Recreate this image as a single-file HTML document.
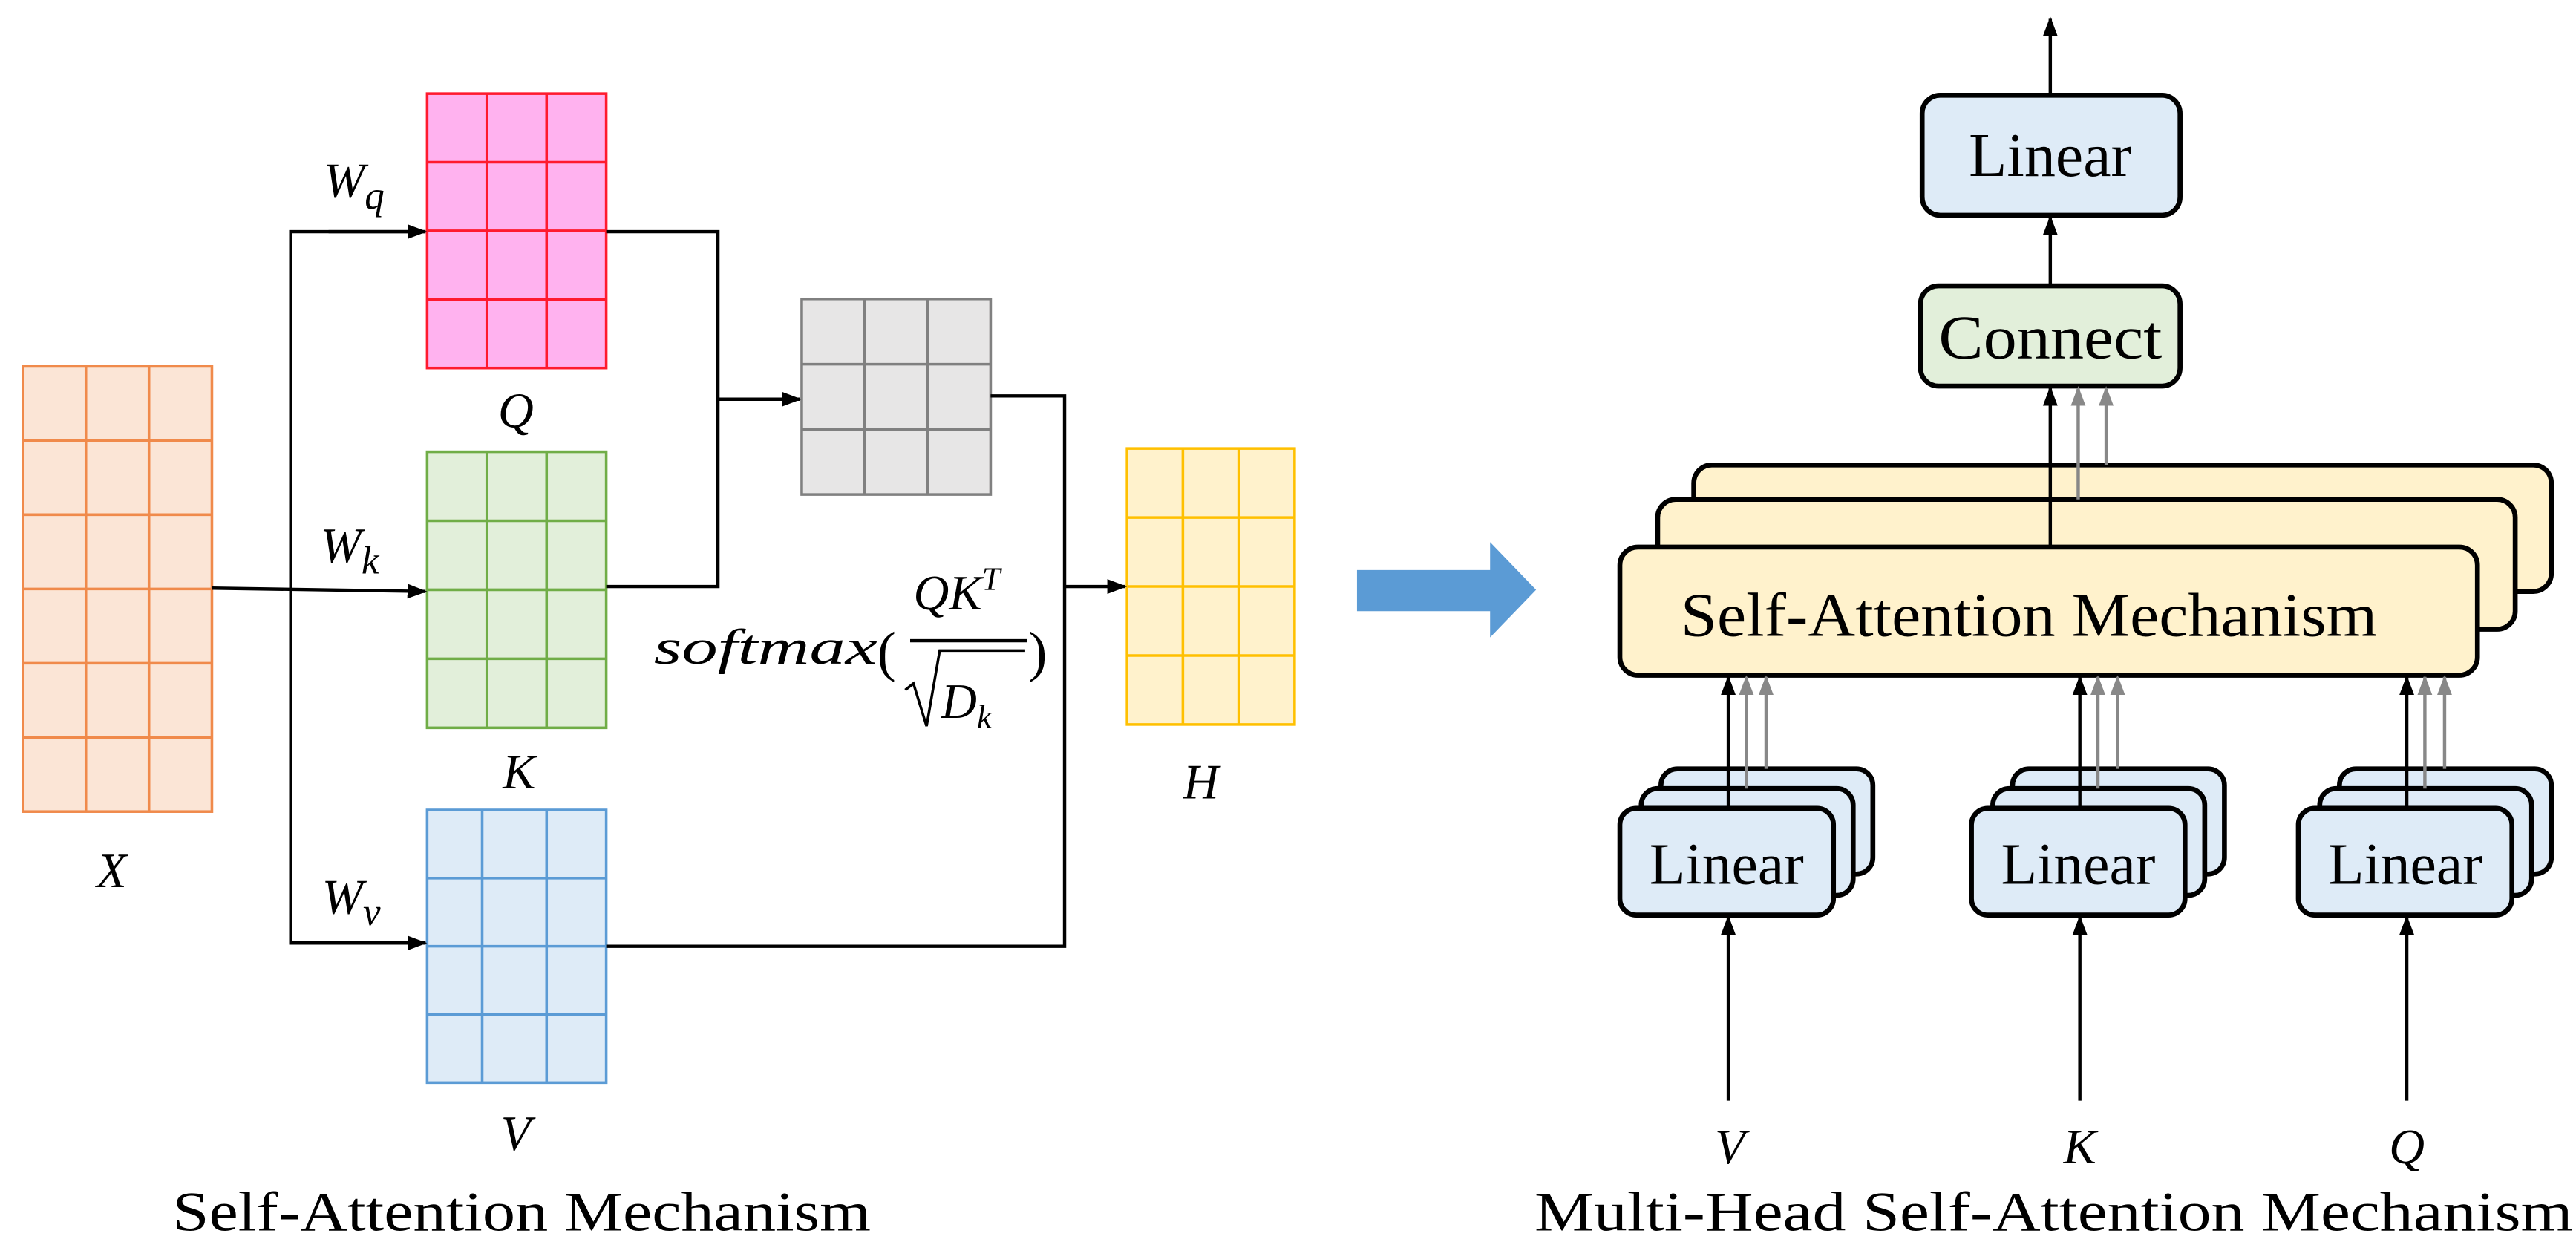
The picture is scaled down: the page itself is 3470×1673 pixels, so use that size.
<!DOCTYPE html>
<html><head><meta charset="utf-8"><style>
html,body{margin:0;padding:0;background:#fff}
svg{display:block}
text{font-family:"Liberation Serif",serif}
.it{font-style:italic}
</style></head><body>
<svg width="3470" height="1673" viewBox="0 0 1568 756" preserveAspectRatio="none" xmlns="http://www.w3.org/2000/svg">
<defs>
<marker id="ab" markerWidth="12" markerHeight="12" refX="11" refY="6" orient="auto" markerUnits="userSpaceOnUse"><path d="M0,1.5 L12,6 L0,10.5 z" fill="#000"/></marker>
<marker id="ag" markerWidth="12" markerHeight="12" refX="11" refY="6" orient="auto" markerUnits="userSpaceOnUse"><path d="M0,1.5 L12,6 L0,10.5 z" fill="#888"/></marker>
</defs>

<g stroke="#F08A4B" stroke-width="1.6" fill="#FBE5D6">
<rect x="14" y="223" width="115" height="271"/>
<line x1="52.3" y1="223" x2="52.3" y2="494"/><line x1="90.7" y1="223" x2="90.7" y2="494"/>
<line x1="14" y1="268.2" x2="129" y2="268.2"/><line x1="14" y1="313.3" x2="129" y2="313.3"/><line x1="14" y1="358.5" x2="129" y2="358.5"/><line x1="14" y1="403.7" x2="129" y2="403.7"/><line x1="14" y1="448.8" x2="129" y2="448.8"/>
</g>
<g stroke="#FF1A2E" stroke-width="1.6" fill="#FFB2EF">
<rect x="260" y="57" width="109" height="167"/>
<line x1="296.3" y1="57" x2="296.3" y2="224"/><line x1="332.7" y1="57" x2="332.7" y2="224"/>
<line x1="260" y1="98.75" x2="369" y2="98.75"/><line x1="260" y1="140.5" x2="369" y2="140.5"/><line x1="260" y1="182.25" x2="369" y2="182.25"/>
</g>
<g stroke="#70AD47" stroke-width="1.6" fill="#E2EFDA">
<rect x="260" y="275" width="109" height="168"/>
<line x1="296.3" y1="275" x2="296.3" y2="443"/><line x1="332.7" y1="275" x2="332.7" y2="443"/>
<line x1="260" y1="317" x2="369" y2="317"/><line x1="260" y1="359" x2="369" y2="359"/><line x1="260" y1="401" x2="369" y2="401"/>
</g>
<g stroke="#5B9BD5" stroke-width="1.6" fill="#DEEBF7">
<rect x="260" y="493" width="109" height="166"/>
<line x1="293.5" y1="493" x2="293.5" y2="659"/><line x1="332.7" y1="493" x2="332.7" y2="659"/>
<line x1="260" y1="534.5" x2="369" y2="534.5"/><line x1="260" y1="576" x2="369" y2="576"/><line x1="260" y1="617.5" x2="369" y2="617.5"/>
</g>
<g stroke="#808080" stroke-width="1.6" fill="#E7E6E6">
<rect x="488" y="182" width="115" height="119"/>
<line x1="526.3" y1="182" x2="526.3" y2="301"/><line x1="564.7" y1="182" x2="564.7" y2="301"/>
<line x1="488" y1="221.7" x2="603" y2="221.7"/><line x1="488" y1="261.3" x2="603" y2="261.3"/>
</g>
<g stroke="#FFC000" stroke-width="1.6" fill="#FFF2CC">
<rect x="686" y="273" width="102" height="168"/>
<line x1="720" y1="273" x2="720" y2="441"/><line x1="754" y1="273" x2="754" y2="441"/>
<line x1="686" y1="315" x2="788" y2="315"/><line x1="686" y1="357" x2="788" y2="357"/><line x1="686" y1="399" x2="788" y2="399"/>
</g>

<g stroke="#000" stroke-width="2" fill="none">
<line x1="129" y1="358" x2="259" y2="360" marker-end="url(#ab)"/>
<polyline points="259,141 177,141 177,574 259,574" />
<line x1="200" y1="141" x2="259" y2="141" marker-end="url(#ab)"/>
<line x1="200" y1="574" x2="259" y2="574" marker-end="url(#ab)"/>
<polyline points="369,141 437,141 437,357 369,357"/>
<line x1="437" y1="243" x2="487" y2="243" marker-end="url(#ab)"/>
<polyline points="603,241 648,241 648,576 369,576"/>
<line x1="648" y1="357" x2="685" y2="357" marker-end="url(#ab)"/>
</g>

<g font-size="30" class="it" fill="#000">
<text x="197" y="120" class="it">W<tspan font-size="24" dy="7">q</tspan></text>
<text x="195" y="342" class="it">W<tspan font-size="24" dy="7">k</tspan></text>
<text x="196" y="556" class="it">W<tspan font-size="24" dy="7">v</tspan></text>
<text x="314" y="260" text-anchor="middle" class="it">Q</text>
<text x="316" y="480" text-anchor="middle" class="it">K</text>
<text x="314" y="700" text-anchor="middle" class="it">V</text>
<text x="68" y="540" text-anchor="middle" class="it">X</text>
<text x="731" y="486" text-anchor="middle" class="it">H</text>
<text x="398" y="404" class="it" textLength="136" lengthAdjust="spacingAndGlyphs">softmax</text>
<text x="534" y="408" font-style="normal" font-size="34">(</text>
<text x="556" y="371" class="it">QK<tspan font-size="20" dy="-12">T</tspan></text>
<text x="573" y="437" class="it">D<tspan font-size="20" dy="6">k</tspan></text>
<text x="626" y="408" font-style="normal" font-size="34">)</text>
</g>
<g stroke="#000" fill="none" stroke-width="2">
<line x1="554" y1="390" x2="625" y2="390"/>
<polyline points="551,420 556,416 564,442 572,396 624,396" stroke-width="1.6"/>
</g>
<text x="105" y="749" font-size="34" textLength="425" lengthAdjust="spacingAndGlyphs">Self-Attention Mechanism</text>

<path d="M826,347 L907,347 L907,330 L935,359 L907,388 L907,372 L826,372 z" fill="#5B9BD5"/>

<g stroke="#000" stroke-width="2" fill="none">
<line x1="1248" y1="58" x2="1248" y2="11" marker-end="url(#ab)"/>
<line x1="1248" y1="174" x2="1248" y2="132" marker-end="url(#ab)"/>
</g>
<rect x="1170" y="58" width="157" height="73" rx="11" fill="#DEEBF7" stroke="#000" stroke-width="3"/>
<text x="1248" y="107" font-size="38" text-anchor="middle">Linear</text>
<rect x="1169" y="174" width="158" height="61" rx="11" fill="#E2EFDA" stroke="#000" stroke-width="3"/>
<text x="1248" y="218" font-size="38" text-anchor="middle" textLength="136" lengthAdjust="spacingAndGlyphs">Connect</text>

<rect x="1031" y="283" width="522" height="77" rx="11" fill="#FFF2CC" stroke="#000" stroke-width="3"/>
<rect x="1009" y="304" width="522" height="79" rx="11" fill="#FFF2CC" stroke="#000" stroke-width="3"/>
<rect x="986" y="333" width="522" height="78" rx="11" fill="#FFF2CC" stroke="#000" stroke-width="3"/>
<text x="1023" y="387" font-size="38" textLength="424" lengthAdjust="spacingAndGlyphs">Self-Attention Mechanism</text>
<g stroke-width="2" fill="none">
<line x1="1248" y1="333" x2="1248" y2="236" stroke="#000" marker-end="url(#ab)"/>
<line x1="1265" y1="304" x2="1265" y2="236" stroke="#888" marker-end="url(#ag)"/>
<line x1="1282" y1="283" x2="1282" y2="236" stroke="#888" marker-end="url(#ag)"/>
</g>

<g id="ls">
<rect x="1011" y="468" width="129" height="64" rx="10" fill="#DEEBF7" stroke="#000" stroke-width="3"/>
<rect x="999" y="480" width="129" height="65" rx="10" fill="#DEEBF7" stroke="#000" stroke-width="3"/>
<rect x="986" y="492" width="130" height="65" rx="10" fill="#DEEBF7" stroke="#000" stroke-width="3"/>
<text x="1051" y="538" font-size="36" text-anchor="middle">Linear</text>
<g stroke-width="2" fill="none">
<line x1="1052" y1="492" x2="1052" y2="412" stroke="#000" marker-end="url(#ab)"/>
<line x1="1063" y1="480" x2="1063" y2="412" stroke="#888" marker-end="url(#ag)"/>
<line x1="1075" y1="468" x2="1075" y2="412" stroke="#888" marker-end="url(#ag)"/>
<line x1="1052" y1="670" x2="1052" y2="558" stroke="#000" marker-end="url(#ab)"/>
</g>
</g>
<use href="#ls" transform="translate(214,0)"/>
<use href="#ls" transform="translate(413,0)"/>

<g font-size="30" class="it">
<text x="1053" y="708" text-anchor="middle" class="it">V</text>
<text x="1266" y="708" text-anchor="middle" class="it">K</text>
<text x="1465" y="708" text-anchor="middle" class="it">Q</text>
</g>
<text x="934" y="749" font-size="34" textLength="632" lengthAdjust="spacingAndGlyphs">Multi-Head Self-Attention Mechanism</text>
</svg>
</body></html>
